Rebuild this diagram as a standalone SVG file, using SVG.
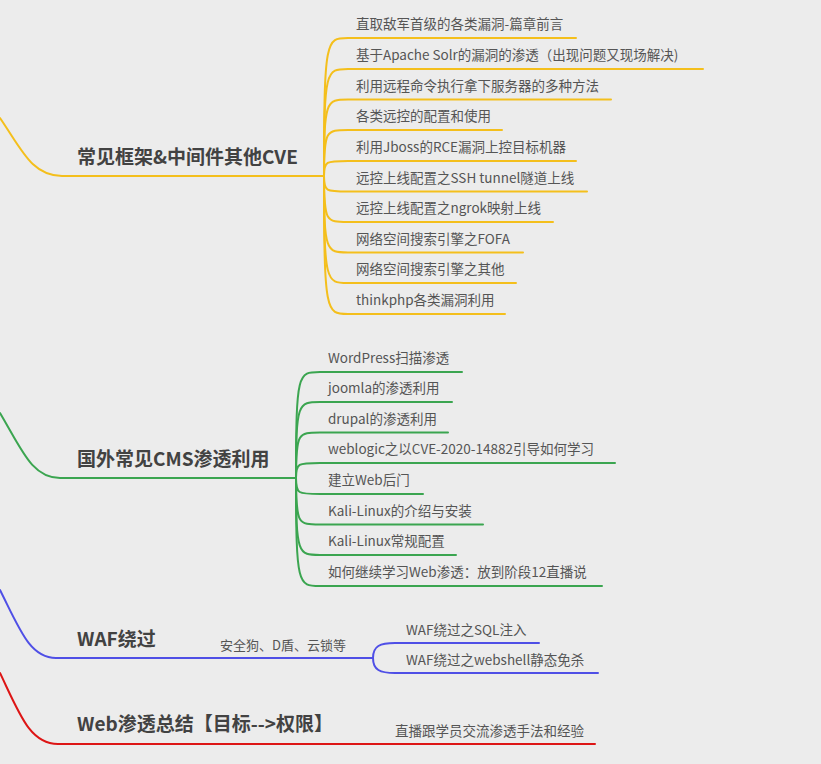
<svg xmlns="http://www.w3.org/2000/svg" width="821" height="764" viewBox="0 0 821 764">
<style>
.bg{fill:#ececec}
.c{fill:none;stroke-width:2;stroke-linecap:round}
.y{stroke:#f4bf1c}
.g{stroke:#3ba550}
.b{stroke:#4f4fe6}
.r{stroke:#dd1515}
.t{font-family:"Noto Sans CJK SC","Noto Sans",sans-serif;font-weight:bold;font-size:19px;fill:#424242}
.s{font-family:"Noto Sans CJK SC","Noto Sans",sans-serif;font-size:13.5px;fill:#555555}
</style>
<rect class="bg" x="0" y="0" width="821" height="764"/>
<g id="connectors">
  <!-- yellow -->
  <path class="c y" d="M0,118 C22,150 32,176 62,176 L324,176"/>
  <path class="c y" d="M324,176 C324,38 326,38 348,38 L576,38"/>
  <path class="c y" d="M324,176 C324,69 326,69 348,69 L703,69"/>
  <path class="c y" d="M324,176 C324,99.5 326,99.5 348,99.5 L611,99.5"/>
  <path class="c y" d="M324,176 C324,130 326,130 348,130 L502,130"/>
  <path class="c y" d="M324,176 C324,161 326,161 348,161 L576,161"/>
  <path class="c y" d="M324,176 C324,191.5 326,191.5 348,191.5 L587,191.5"/>
  <path class="c y" d="M324,176 C324,222 326,222 348,222 L553,222"/>
  <path class="c y" d="M324,176 C324,252.5 326,252.5 348,252.5 L523,252.5"/>
  <path class="c y" d="M324,176 C324,283 326,283 348,283 L516,283"/>
  <path class="c y" d="M324,176 C324,314 326,314 348,314 L505,314"/>
  <!-- green -->
  <path class="c g" d="M0,413 C22,450 32,478 60,478 L296,478"/>
  <path class="c g" d="M296,478 C296,372 298,372 320,372 L462,372"/>
  <path class="c g" d="M296,478 C296,402 298,402 320,402 L452,402"/>
  <path class="c g" d="M296,478 C296,432.5 298,432.5 320,432.5 L448,432.5"/>
  <path class="c g" d="M296,478 C296,463 298,463 320,463 L615,463"/>
  <path class="c g" d="M296,478 C296,494 298,494 320,494 L423,494"/>
  <path class="c g" d="M296,478 C296,524.5 298,524.5 320,524.5 L483,524.5"/>
  <path class="c g" d="M296,478 C296,555 298,555 320,555 L456,555"/>
  <path class="c g" d="M296,478 C296,586 298,586 320,586 L602,586"/>
  <!-- blue -->
  <path class="c b" d="M0,590 C20,630 30,658 56,658 L373,658"/>
  <path class="c b" d="M373,658 C373,646 380,643 395,643 L539,643"/>
  <path class="c b" d="M373,658 C373,670 380,673 395,673 L598,673"/>
  <!-- red -->
  <path class="c r" d="M0,673 C20,715 30,744 58,744 L595,744"/>
</g>
<g id="n-cve"><text class="t" x="77" y="164">常见框架&amp;中间件其他CVE</text></g>
<g id="n-cve-1"><text class="s" x="356" y="29">直取敌军首级的各类漏洞-篇章前言</text></g>
<g id="n-cve-2"><text class="s" x="356" y="60">基于Apache Solr的漏洞的渗透（出现问题又现场解决)</text></g>
<g id="n-cve-3"><text class="s" x="356" y="90.5">利用远程命令执行拿下服务器的多种方法</text></g>
<g id="n-cve-4"><text class="s" x="356" y="121">各类远控的配置和使用</text></g>
<g id="n-cve-5"><text class="s" x="356" y="152">利用Jboss的RCE漏洞上控目标机器</text></g>
<g id="n-cve-6"><text class="s" x="356" y="182.5">远控上线配置之SSH tunnel隧道上线</text></g>
<g id="n-cve-7"><text class="s" x="356" y="213">远控上线配置之ngrok映射上线</text></g>
<g id="n-cve-8"><text class="s" x="356" y="243.5">网络空间搜索引擎之FOFA</text></g>
<g id="n-cve-9"><text class="s" x="356" y="274">网络空间搜索引擎之其他</text></g>
<g id="n-cve-10"><text class="s" x="356" y="305">thinkphp各类漏洞利用</text></g>
<g id="n-cms"><text class="t" x="77" y="466">国外常见CMS渗透利用</text></g>
<g id="n-cms-1"><text class="s" x="328" y="363">WordPress扫描渗透</text></g>
<g id="n-cms-2"><text class="s" x="328" y="393">joomla的渗透利用</text></g>
<g id="n-cms-3"><text class="s" x="328" y="423.5">drupal的渗透利用</text></g>
<g id="n-cms-4"><text class="s" x="328" y="454">weblogic之以CVE-2020-14882引导如何学习</text></g>
<g id="n-cms-5"><text class="s" x="328" y="485">建立Web后门</text></g>
<g id="n-cms-6"><text class="s" x="328" y="515.5">Kali-Linux的介绍与安装</text></g>
<g id="n-cms-7"><text class="s" x="328" y="546">Kali-Linux常规配置</text></g>
<g id="n-cms-8"><text class="s" x="328" y="577">如何继续学习Web渗透：放到阶段12直播说</text></g>
<g id="n-waf"><text class="t" x="77" y="646">WAF绕过</text>
<text class="s" x="220" y="650" style="font-size:13px">安全狗、D盾、云锁等</text></g>
<g id="n-waf-1"><text class="s" x="406" y="635">WAF绕过之SQL注入</text></g>
<g id="n-waf-2"><text class="s" x="406" y="665">WAF绕过之webshell静态免杀</text></g>
<g id="n-sum"><text class="t" x="77" y="731">Web渗透总结【目标--&gt;权限】</text>
<text class="s" x="395" y="736">直播跟学员交流渗透手法和经验</text></g>
</svg>
